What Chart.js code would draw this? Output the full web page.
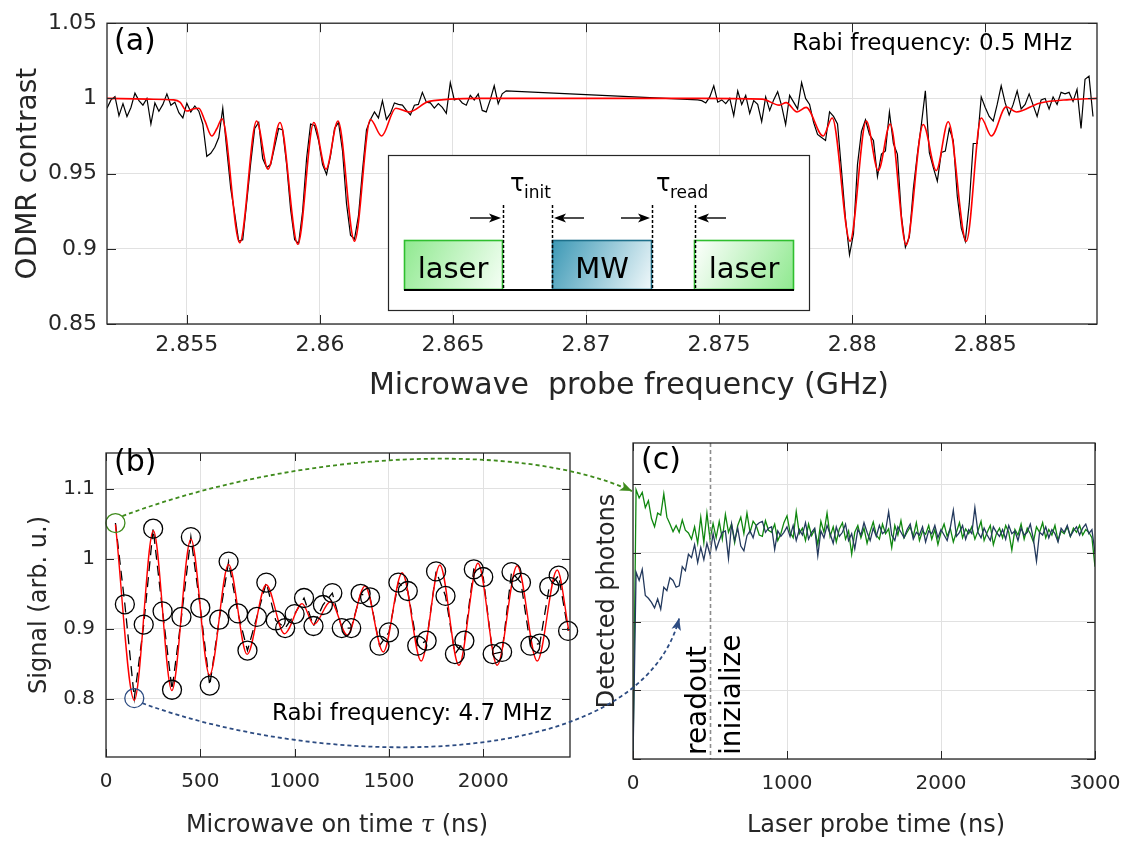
<!DOCTYPE html>
<html>
<head>
<meta charset="utf-8">
<script src="https://cdn.jsdelivr.net/npm/chart.js@4.4.1/dist/chart.umd.min.js"></script>
<style>
  body { margin: 0; background: #fff; width: 1135px; height: 847px; overflow: hidden; position: relative; }
  canvas { position: absolute; }
  #ca { left: 0; top: 0; }
  #cb { left: 0; top: 430px; }
  #cc { left: 590px; top: 430px; }
  #ov { left: 0; top: 0; pointer-events: none; }
</style>
</head>
<body>
<canvas id="ca" width="1135" height="410"></canvas>
<canvas id="cb" width="590" height="417"></canvas>
<canvas id="cc" width="545" height="417"></canvas>
<canvas id="ov" width="1135" height="847"></canvas>
<script>
// ---- (a) ODMR spectrum ----
const odmrFreq = [
  2.85200,2.85215,2.85230,2.85245,2.85260,2.85275,2.85290,2.85305,2.85320,2.85335,
  2.85350,2.85365,2.85380,2.85395,2.85410,2.85425,2.85440,2.85455,2.85470,2.85485,
  2.85500,2.85515,2.85530,2.85545,2.85560,2.85575,2.85590,2.85605,2.85620,2.85635,
  2.85650,2.85665,2.85680,2.85695,2.85710,2.85725,2.85740,2.85755,2.85770,2.85785,
  2.85800,2.85815,2.85830,2.85845,2.85860,2.85875,2.85890,2.85905,2.85920,2.85935,
  2.85950,2.85965,2.85980,2.85995,2.86010,2.86025,2.86040,2.86055,2.86070,2.86085,
  2.86100,2.86115,2.86130,2.86145,2.86160,2.86175,2.86190,2.86205,2.86220,2.86235,
  2.86250,2.86265,2.86280,2.86295,2.86310,2.86325,2.86340,2.86355,2.86370,2.86385,
  2.86400,2.86415,2.86430,2.86445,2.86460,2.86475,2.86490,2.86505,2.86520,2.86535,
  2.86550,2.86565,2.86580,2.86595,2.86610,2.86625,2.86640,2.86655,2.86670,2.86685,
  2.86700,
  2.87420,2.87435,2.87450,2.87465,2.87480,2.87495,2.87510,2.87525,2.87540,2.87555,
  2.87570,2.87585,2.87600,2.87615,2.87630,2.87645,2.87660,2.87675,2.87690,2.87705,
  2.87720,2.87735,2.87750,2.87765,2.87780,2.87795,2.87810,2.87825,2.87840,2.87855,
  2.87870,2.87885,2.87900,2.87915,2.87930,2.87945,2.87960,2.87975,2.87990,2.88005,
  2.88020,2.88035,2.88050,2.88065,2.88080,2.88095,2.88110,2.88125,2.88140,2.88155,
  2.88170,2.88185,2.88200,2.88215,2.88230,2.88245,2.88260,2.88275,2.88290,2.88305,
  2.88320,2.88335,2.88350,2.88365,2.88380,2.88395,2.88410,2.88425,2.88440,2.88455,
  2.88470,2.88485,2.88500,2.88515,2.88530,2.88545,2.88560,2.88575,2.88590,2.88605,
  2.88620,2.88635,2.88650,2.88665,2.88680,2.88695,2.88710,2.88725,2.88740,2.88755,
  2.88770,2.88785,2.88800,2.88815,2.88830,2.88845,2.88860,2.88875,2.88890,2.88905
];
const odmrContrast = [
  0.9935,0.9990,1.0012,0.9885,0.9965,0.9880,0.9940,1.0035,0.9985,0.9955,
  1.0000,0.9830,0.9970,0.9915,0.9960,1.0030,0.9955,0.9975,0.9905,0.9870,
  0.9968,0.9910,0.9950,0.9915,0.9830,0.9615,0.9635,0.9675,0.9740,0.9935,
  0.9660,0.9400,0.9230,0.9050,0.9060,0.9310,0.9570,0.9800,0.9840,0.9600,
  0.9540,0.9560,0.9680,0.9800,0.9790,0.9560,0.9260,0.9060,0.9035,0.9250,
  0.9600,0.9830,0.9820,0.9720,0.9560,0.9495,0.9620,0.9800,0.9840,0.9650,
  0.9300,0.9090,0.9065,0.9220,0.9520,0.9790,0.9860,0.9910,0.9870,0.9985,
  0.9860,0.9900,0.9970,0.9960,0.9955,0.9920,0.9890,0.9955,0.9960,1.0040,
  0.9975,0.9970,0.9935,0.9965,0.9940,0.9900,1.0105,0.9990,1.0000,0.9970,
  0.9955,1.0020,0.9990,1.0030,0.9920,0.9910,0.9990,1.0084,0.9965,1.0030,
  1.0050,
  0.9990,0.9985,0.9970,1.0010,1.0084,0.9975,0.9990,0.9965,1.0000,0.9885,
  1.0050,0.9960,1.0020,0.9900,0.9985,0.9960,0.9845,1.0010,0.9920,0.9990,
  1.0045,0.9950,0.9826,1.0020,0.9975,0.9930,1.0105,1.0000,0.9960,0.9840,
  0.9760,0.9740,0.9720,0.9910,0.9880,0.9830,0.9520,0.9200,0.8960,0.9100,
  0.9560,0.9780,0.9858,0.9760,0.9720,0.9480,0.9630,0.9650,0.9910,0.9700,
  0.9630,0.9220,0.9010,0.9080,0.9400,0.9630,0.9826,1.0050,0.9640,0.9540,
  0.9450,0.9640,0.9650,0.9800,0.9720,0.9350,0.9137,0.9050,0.9300,0.9700,
  0.9700,1.0010,0.9940,0.9880,0.9850,0.9960,1.0084,0.9970,0.9890,0.9960,
  1.0050,0.9930,0.9960,1.0030,0.9955,0.9880,0.9990,1.0000,0.9930,1.0010,
  0.9960,1.0040,1.0030,1.0040,0.9980,1.0060,0.9800,1.0127,1.0148,0.9880
];
const odmrFitFreq = [2.8520,2.85357,2.85451,2.85474,2.8550,2.85523,2.85545,2.85568,2.85594,2.85613,
  2.85632,2.85699,2.85762,2.85805,2.8585,2.85917,2.85977,2.86023,2.86068,2.8613,
  2.8619,2.86232,2.86285,2.86335,2.8641,2.86598,2.87425,2.87662,2.87726,2.87752,
  2.87793,2.87827,2.87891,2.87925,2.87992,2.88053,2.88098,2.88143,2.88203,2.88267,
  2.88316,2.88361,2.88429,2.88485,2.88523,2.88579,2.88617,2.88703,2.88816,2.8892];
const odmrFit = [1.0,0.9995,0.999,0.9975,0.9916,0.993,0.9935,0.985,0.975,0.98,
  0.9865,0.904,0.985,0.953,0.984,0.903,0.984,0.953,0.985,0.905,
  0.986,0.975,0.9935,0.991,0.998,1.0,1.0,0.9995,0.9955,0.9972,
  0.991,0.994,0.975,0.987,0.905,0.985,0.952,0.983,0.9026,0.9826,
  0.952,0.9845,0.905,0.987,0.975,0.9944,0.991,0.9968,0.9992,1.0];
const freqTicks = [2.855, 2.86, 2.865, 2.87, 2.875, 2.88, 2.885];
const contrastTicks = [0.85, 0.9, 0.95, 1, 1.05];

// ---- (b) Rabi oscillation ----
const rabiTime = [50,100,150,200,250,300,350,400,450,500,550,600,650,700,750,800,850,900,950,1000,
  1050,1100,1150,1200,1250,1300,1350,1400,1450,1500,1550,1600,1650,1700,1750,1800,1850,1900,1950,2000,
  2050,2100,2150,2200,2250,2300,2350,2400,2450];
const rabiSignal = [1.051,0.935,0.801,0.906,1.043,0.925,0.813,0.917,1.031,0.930,0.819,0.913,0.996,0.922,0.869,0.917,0.966,0.912,0.901,0.921,
  0.944,0.904,0.934,0.951,0.901,0.901,0.950,0.945,0.876,0.895,0.966,0.954,0.876,0.883,0.982,0.947,0.864,0.883,0.985,0.974,
  0.864,0.867,0.981,0.966,0.876,0.879,0.960,0.976,0.897];
const rabiFitTime = [50,150,251,349,450,549,650,748,849,946,1040,1102,1191,1279,1373,1470,1570,1671,1770,1871,1972,2074,2180,2286,2392,2454];
const rabiFit = [1.049,0.798,1.040,0.812,1.028,0.834,0.992,0.8635,0.963,0.893,0.936,0.906,0.939,0.891,0.961,0.867,0.980,0.854,0.991,0.848,0.9935,0.848,0.990,0.854,0.984,0.897];
const rabiTimeTicks = [0, 500, 1000, 1500, 2000];
const signalTicks = [0.8, 0.9, 1, 1.1];

// ---- (c) photon traces ----
const probeTime = [0,20,40,60,80,100,120,140,160,180,200,220,240,260,280,300,320,340,360,380,
  400,420,440,460,480,500,520,540,560,580,600,620,640,660,680,700,720,740,760,780,
  800,820,840,860,880,900,920,940,960,980,1000,1020,1040,1060,1080,1100,1120,1140,1160,1180,
  1200,1220,1240,1260,1280,1300,1320,1340,1360,1380,1400,1420,1440,1460,1480,1500,1520,1540,1560,1580,
  1600,1620,1640,1660,1680,1700,1720,1740,1760,1780,1800,1820,1840,1860,1880,1900,1920,1940,1960,1980,
  2000,2020,2040,2060,2080,2100,2120,2140,2160,2180,2200,2220,2240,2260,2280,2300,2320,2340,2360,2380,
  2400,2420,2440,2460,2480,2500,2520,2540,2560,2580,2600,2620,2640,2660,2680,2700,2720,2740,2760,2780,
  2800,2820,2840,2860,2880,2900,2920,2940,2960,2980,3000];
const photonsInit = [0,3.92,3.80,3.88,3.66,3.76,3.50,3.38,3.58,3.55,3.86,3.52,3.42,3.31,3.40,3.30,3.48,3.33,3.29,3.20,
  3.38,3.14,3.52,3.15,3.58,3.20,3.43,3.22,3.46,3.20,3.56,3.30,3.42,3.15,3.40,3.52,3.28,3.58,3.30,3.46,
  3.40,3.26,3.24,3.47,3.33,3.30,3.42,3.18,3.28,3.44,3.54,
  3.30,3.22,3.60,3.28,3.36,3.18,3.42,3.25,3.34,3.12,3.46,3.30,3.58,3.24,3.38,3.16,3.35,3.44,3.20,3.32,
  2.98,3.30,3.40,3.22,3.36,3.14,3.31,3.45,3.26,3.20,3.42,3.28,3.35,3.08,3.40,3.26,3.47,3.22,3.30,3.38,
  3.24,3.44,3.18,3.32,3.27,3.40,3.20,3.34,3.12,3.30,3.42,3.24,3.36,3.16,3.30,3.44,3.22,3.35,3.28,3.38,
  3.20,3.32,3.46,3.18,3.30,3.40,3.12,3.28,3.36,3.22,3.40,3.30,3.04,3.34,3.26,3.42,3.20,3.36,3.28,3.16,
  3.38,3.30,3.44,3.22,3.34,3.26,3.40,3.18,3.32,3.28,3.38,3.24,3.36,3.30,3.40,3.26,3.34,3.30,3.22,2.80];
const photonsRead = [0,2.72,2.60,2.76,2.38,2.34,2.28,2.20,2.33,2.18,2.50,2.45,2.64,2.60,2.50,2.52,2.80,2.74,2.98,2.93,
  3.12,2.86,3.08,2.90,3.14,2.98,3.28,3.05,3.18,3.30,3.32,2.92,3.42,3.18,3.36,3.10,3.03,3.25,3.32,3.22,
  3.40,3.44,3.46,3.30,3.36,3.38,3.05,3.32,3.24,3.30,3.38,
  3.24,3.40,3.18,3.34,3.26,3.44,3.20,3.30,3.36,2.96,3.32,3.22,3.40,3.28,3.14,3.38,3.24,3.30,3.42,3.18,
  3.28,3.06,3.34,3.26,3.44,3.30,3.18,3.36,3.24,3.40,3.28,3.32,3.60,3.26,3.18,3.38,3.30,3.22,3.34,3.42,
  3.20,3.30,3.26,3.38,3.16,3.32,3.28,3.40,3.22,3.34,3.26,3.18,3.36,3.62,3.24,3.30,3.40,3.20,3.34,3.28,
  3.66,3.30,3.22,3.36,3.26,3.18,3.38,3.30,3.24,3.34,3.20,3.40,3.28,3.32,3.18,3.36,3.26,3.30,3.42,3.20,
  2.88,3.30,3.26,3.38,3.22,3.34,3.28,3.16,3.36,3.30,3.40,3.24,3.32,3.38,3.26,3.36,3.42,3.28,3.34,3.00];
const probeTicks = [0, 1000, 2000, 3000];
const photonTicks = [0, 1, 2, 3, 4];
const readoutStart = 500;

const FONT = 'DejaVu Sans';
const INK = '#262626';
const GRID = '#e1e1e1';
Chart.defaults.font.family = FONT;
Chart.defaults.color = INK;
Chart.defaults.animation = false;

const pairs = (xs, ys) => xs.map((x, i) => ({ x, y: ys[i] }));
const trimNum = v => String(+v.toFixed(3));
const fixedTicks = list => s => { s.ticks = list.map(v => ({ value: v })); };

// box round the plot area + inward tick marks on all four sides
const axisBox = {
  id: 'axisBox',
  afterDraw(chart, args, opts) {
    const { ctx, chartArea: a, scales: { x, y } } = chart;
    const len = opts.len || 8;
    ctx.save();
    ctx.strokeStyle = INK;
    ctx.lineWidth = 1;
    ctx.beginPath();
    x.ticks.forEach(t => {
      const p = Math.round(x.getPixelForValue(t.value)) + 0.5;
      ctx.moveTo(p, a.top); ctx.lineTo(p, a.top + len);
      ctx.moveTo(p, a.bottom); ctx.lineTo(p, a.bottom - len);
    });
    y.ticks.forEach(t => {
      const p = Math.round(y.getPixelForValue(t.value)) + 0.5;
      ctx.moveTo(a.left, p); ctx.lineTo(a.left + len, p);
      ctx.moveTo(a.right, p); ctx.lineTo(a.right - len, p);
    });
    ctx.stroke();
    ctx.lineWidth = 1.3;
    ctx.strokeRect(a.left, a.top, a.right - a.left, a.bottom - a.top);
    ctx.restore();
  }
};

// dashed marker at the readout/initialize boundary
const markerLine = {
  id: 'markerLine',
  afterDatasetsDraw(chart, args, opts) {
    if (opts.at == null) return;
    const { ctx, chartArea: a, scales: { x } } = chart;
    const px = Math.round(x.getPixelForValue(opts.at)) + 0.5;
    ctx.save();
    ctx.strokeStyle = '#8c8c8c';
    ctx.lineWidth = 1.6;
    ctx.setLineDash([4, 3]);
    ctx.beginPath(); ctx.moveTo(px, a.top); ctx.lineTo(px, a.bottom); ctx.stroke();
    ctx.restore();
  }
};

function baseScales(o) {
  return {
    x: {
      type: 'linear', min: o.xmin, max: o.xmax,
      grid: { color: GRID, drawTicks: false },
      border: { display: false },
      ticks: { padding: o.xpad, font: { size: o.tickSize }, maxRotation: 0, autoSkip: false, callback: trimNum },
      afterBuildTicks: fixedTicks(o.xticks),
      afterFit: s => { s.height = o.xh; }
    },
    y: {
      type: 'linear', min: o.ymin, max: o.ymax,
      grid: { color: GRID, drawTicks: false },
      border: { display: false },
      ticks: { display: o.ylabels !== false, padding: o.ypad, font: { size: o.tickSize }, autoSkip: false, callback: trimNum },
      afterBuildTicks: fixedTicks(o.yticks),
      title: { display: true, text: o.ytitle, font: { size: o.titleSize }, padding: { top: o.ytpad, bottom: 0 }, color: INK },
      afterFit: s => { s.width = o.yw; }
    }
  };
}

const common = {
  responsive: false,
  events: [],
  plugins: { legend: { display: false }, tooltip: { enabled: false } }
};

const chartA = new Chart(document.getElementById('ca'), {
  type: 'line',
  data: {
    datasets: [
      { data: pairs(odmrFitFreq, odmrFit), borderColor: '#ff0000', borderWidth: 1.6, pointRadius: 0, cubicInterpolationMode: 'monotone', order: 0 },
      { data: pairs(odmrFreq, odmrContrast), borderColor: '#000000', borderWidth: 1.2, pointRadius: 0, tension: 0, order: 1 }
    ]
  },
  options: {
    ...common,
    layout: { padding: { top: 14, right: 38, left: 0, bottom: 0 } },
    scales: baseScales({ xmin: 2.852, xmax: 2.8892, xticks: freqTicks, ymin: 0.85, ymax: 1.05, yticks: contrastTicks,
      xh: 86, yw: 107, xpad: 8, ypad: 10, tickSize: 22, titleSize: 28, ytitle: 'ODMR contrast', ytpad: 12 }),
    plugins: { ...common.plugins, axisBox: { len: 9 } }
  },
  plugins: [axisBox]
});

const circleColors = rabiTime.map((t, i) => i === 0 ? '#3f8b1c' : (i === 2 ? '#2d4c82' : '#000000'));

const chartB = new Chart(document.getElementById('cb'), {
  type: 'line',
  data: {
    datasets: [
      { data: pairs(rabiTime, rabiSignal), showLine: false, pointRadius: 9.5, pointBorderWidth: 1.3,
        pointBorderColor: circleColors, pointBackgroundColor: 'rgba(0,0,0,0)', clip: false, order: 0 },
      { data: pairs(rabiFitTime, rabiFit), borderColor: '#ff0000', borderWidth: 1.4, pointRadius: 0, cubicInterpolationMode: 'monotone', order: 1 },
      { data: pairs(rabiTime, rabiSignal), borderColor: '#000000', borderWidth: 1.3, borderDash: [10, 6], pointRadius: 0, tension: 0, order: 2 }
    ]
  },
  options: {
    ...common,
    layout: { padding: { top: 13, right: 20, left: 0, bottom: 0 } },
    scales: baseScales({ xmin: 0, xmax: 2460, xticks: rabiTimeTicks, ymin: 0.717, ymax: 1.151, yticks: signalTicks,
      xh: 90, yw: 106, xpad: 13, ypad: 11, tickSize: 20, titleSize: 24, ytitle: 'Signal (arb. u.)', ytpad: 25 }),
    plugins: { ...common.plugins, axisBox: { len: 8 } }
  },
  plugins: [axisBox]
});

const chartC = new Chart(document.getElementById('cc'), {
  type: 'line',
  data: {
    datasets: [
      { data: pairs(probeTime, photonsRead), borderColor: '#23395d', borderWidth: 1.3, pointRadius: 0, tension: 0, order: 0 },
      { data: pairs(probeTime, photonsInit), borderColor: '#0f870f', borderWidth: 1.3, pointRadius: 0, tension: 0, order: 1 }
    ]
  },
  options: {
    ...common,
    layout: { padding: { top: 13, right: 40, left: 0, bottom: 0 } },
    scales: baseScales({ xmin: 0, xmax: 3000, xticks: probeTicks, ymin: 0, ymax: 4.6, yticks: photonTicks, ylabels: false,
      xh: 88, yw: 43, xpad: 13, ypad: 8, tickSize: 20, titleSize: 24, ytitle: 'Detected photons', ytpad: 3 }),
    plugins: { ...common.plugins, axisBox: { len: 8 }, markerLine: { at: readoutStart } }
  },
  plugins: [axisBox, markerLine]
});

// ---- overlay: inset schematic, panel texts, linking arrows ----
const ov = document.getElementById('ov').getContext('2d');
const offB = { x: 0, y: 430 }, offC = { x: 590, y: 430 };
const pB = (t, v) => [chartB.scales.x.getPixelForValue(t) + offB.x, chartB.scales.y.getPixelForValue(v) + offB.y];
const pC = (t, v) => [chartC.scales.x.getPixelForValue(t) + offC.x, chartC.scales.y.getPixelForValue(v) + offC.y];

function text(str, x, y, size, align, opts = {}) {
  ov.save();
  ov.font = (opts.style || '') + ' ' + size + 'px ' + (opts.family || FONT);
  ov.fillStyle = opts.color || '#000';
  ov.textAlign = align || 'left';
  ov.textBaseline = opts.baseline || 'alphabetic';
  ov.translate(x, y);
  if (opts.rot) ov.rotate(opts.rot);
  ov.fillText(str, 0, 0);
  ov.restore();
}

function smallArrow(x0, x1, y) {
  const dir = Math.sign(x1 - x0);
  ov.save();
  ov.strokeStyle = '#000'; ov.fillStyle = '#000'; ov.lineWidth = 1.4;
  ov.beginPath(); ov.moveTo(x0, y); ov.lineTo(x1 - dir * 6, y); ov.stroke();
  ov.beginPath(); ov.moveTo(x1, y); ov.lineTo(x1 - dir * 12, y - 4.5); ov.lineTo(x1 - dir * 9, y); ov.lineTo(x1 - dir * 12, y + 4.5); ov.closePath(); ov.fill();
  ov.restore();
}

function pulseBox(x0, x1, top, bottom, c0, c1, edge) {
  const g = ov.createLinearGradient(x0, top, x1, bottom);
  g.addColorStop(0, c0); g.addColorStop(1, c1);
  ov.fillStyle = g;
  ov.fillRect(x0, top, x1 - x0, bottom - top);
  ov.strokeStyle = edge; ov.lineWidth = 1.6;
  ov.strokeRect(x0 + 0.5, top + 0.5, x1 - x0 - 1, bottom - top - 1);
}

function drawInset() {
  const L = 388, T = 155, R = 809, B = 310;
  ov.save();
  ov.fillStyle = '#fff'; ov.fillRect(L, T, R - L, B - T);
  ov.strokeStyle = INK; ov.lineWidth = 1.2; ov.strokeRect(L + 0.5, T + 0.5, R - L, B - T);
  const top = 240, bot = 290;
  pulseBox(404, 503, top, bot, '#8fe98f', '#f6fff6', '#2fbf2f');
  pulseBox(552, 652, top, bot, '#3b98b5', '#f2f9fb', '#1d6f8a');
  pulseBox(694, 794, top, bot, '#ffffff', '#8fe98f', '#2fbf2f');
  ov.strokeStyle = '#000'; ov.lineWidth = 2;
  ov.beginPath(); ov.moveTo(404, bot); ov.lineTo(794, bot); ov.stroke();
  ov.lineWidth = 1.5; ov.setLineDash([3, 2]);
  [503, 552, 652, 695].forEach(x => { ov.beginPath(); ov.moveTo(x + 0.5, 205); ov.lineTo(x + 0.5, bot); ov.stroke(); });
  ov.setLineDash([]);
  ov.restore();
  smallArrow(470, 501, 218);
  smallArrow(584, 554, 218);
  smallArrow(621, 650, 218);
  smallArrow(726, 697, 218);
  text('laser', 453, 278, 29, 'center');
  text('MW', 602, 278, 29, 'center');
  text('laser', 744, 278, 29, 'center');
  text('\u03c4', 510, 191, 24, 'left');
  text('init', 524, 198, 17, 'left');
  text('\u03c4', 656, 191, 24, 'left');
  text('read', 670, 198, 17, 'left');
}

function dashedArrow(p0, c1, c2, p1, color) {
  ov.save();
  ov.strokeStyle = color; ov.fillStyle = color; ov.lineWidth = 1.8;
  ov.setLineDash([4, 3]);
  ov.beginPath(); ov.moveTo(p0[0], p0[1]); ov.bezierCurveTo(c1[0], c1[1], c2[0], c2[1], p1[0], p1[1]); ov.stroke();
  ov.setLineDash([]);
  const ang = Math.atan2(p1[1] - c2[1], p1[0] - c2[0]);
  const hl = 13, hw = 0.38;
  ov.beginPath();
  ov.moveTo(p1[0], p1[1]);
  ov.lineTo(p1[0] - hl * Math.cos(ang - hw), p1[1] - hl * Math.sin(ang - hw));
  ov.lineTo(p1[0] - hl * 0.7 * Math.cos(ang), p1[1] - hl * 0.7 * Math.sin(ang));
  ov.lineTo(p1[0] - hl * Math.cos(ang + hw), p1[1] - hl * Math.sin(ang + hw));
  ov.closePath(); ov.fill();
  ov.restore();
}

drawInset();

// panel labels and notes
text('(a)', 114, 50, 30, 'left');
text('(b)', 114, 471, 30, 'left');
text('(c)', 641, 469, 30, 'left');
text('Rabi frequency: 0.5 MHz', 1072, 50, 23, 'right');
text('Rabi frequency: 4.7 MHz', 272, 720, 23, 'left');

// x-axis titles
text('Microwave  probe frequency (GHz)', 629, 386, 30, 'center', { baseline: 'middle', color: INK });
(function () {
  const a = 'Microwave on time ', b = '\u03c4', c = ' (ns)';
  ov.font = '24px ' + FONT; const wa = ov.measureText(a).width, wc = ov.measureText(c).width;
  ov.font = 'italic 24px DejaVu Serif'; const wb = ov.measureText(b).width;
  const x0 = 337 - (wa + wb + wc) / 2;
  text(a, x0, 826, 24, 'left', { baseline: 'middle', color: INK });
  text(b, x0 + wa, 826, 24, 'left', { baseline: 'middle', color: INK, style: 'italic', family: 'DejaVu Serif' });
  text(c, x0 + wa + wb, 826, 24, 'left', { baseline: 'middle', color: INK });
})();
text('Laser probe time (ns)', 876, 826, 24, 'center', { baseline: 'middle', color: INK });

// readout / initialize labels beside the marker
const mx = pC(readoutStart, 0)[0];
text('readout', mx - 4, 755, 28, 'left', { rot: -Math.PI / 2 });
text('inizialize', mx + 30, 755, 28, 'left', { rot: -Math.PI / 2 });

// arrows linking the first Rabi points to the two traces
const gs = pB(rabiTime[0], rabiSignal[0]);
const ge = pC(0, 3.9);
dashedArrow([gs[0] + 7, gs[1] - 7], [300, 450], [520, 440], [ge[0] - 1, ge[1]], '#3f8b1c');
const bs = pB(rabiTime[2], rabiSignal[2]);
const be = pC(300, 2.05);
dashedArrow([bs[0] + 8, bs[1] + 5], [330, 772], [640, 772], be, '#2d4c82');
</script>
</body>
</html>
